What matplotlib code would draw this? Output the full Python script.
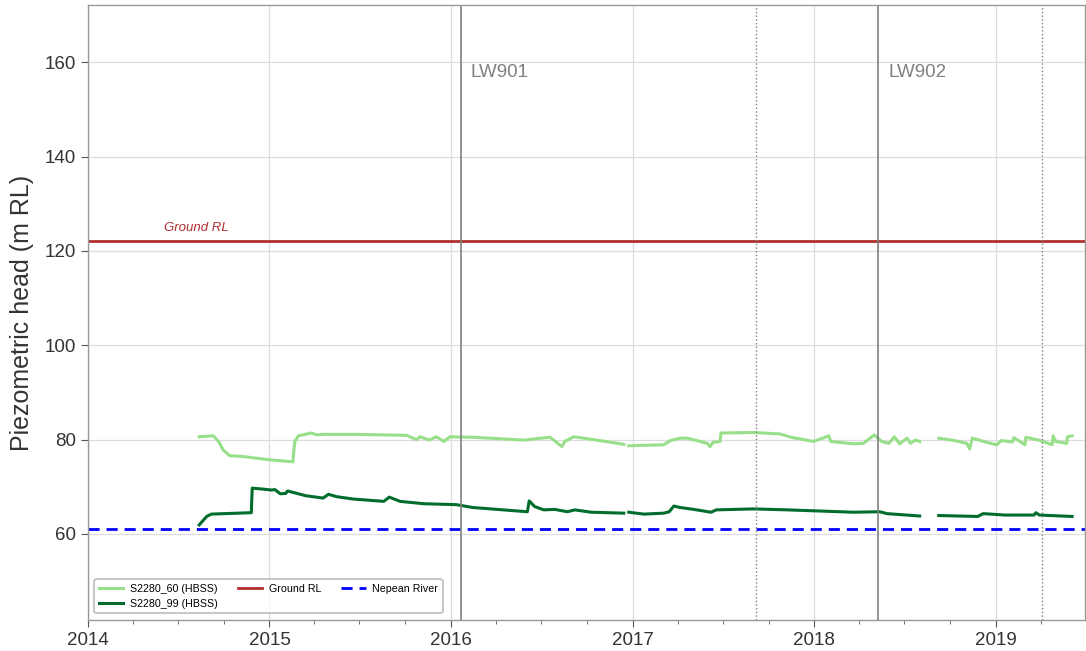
#!/usr/bin/env python

import numpy as np
import pandas as pd
import matplotlib
matplotlib.use("Agg")
import matplotlib.pyplot as plt
import matplotlib.dates as mdates

plt.rcParams['font.family'] = ['Arial', 'Liberation Sans', 'DejaVu Sans']

# piezometer readings, time in decimal years (NaN marks a gap in the record)
s60_t = [2014.613, 2014.69, 2014.72, 2014.745, 2014.78, 2014.856, 2015.003, 2015.13, 2015.133,
         2015.14, 2015.16, 2015.23, 2015.26, 2015.296, 2015.48, 2015.755, 2015.81, 2015.83,
         2015.88, 2015.92, 2015.96, 2015.995, 2016.12, 2016.4, 2016.545, 2016.61, 2016.625,
         2016.675, 2016.73, 2016.95, np.nan,
         2016.977, 2017.17, 2017.207, 2017.26, 2017.30, 2017.41, 2017.425, 2017.44, 2017.48,
         2017.485, 2017.665, 2017.81, 2017.87, 2017.996, 2018.08, 2018.09, 2018.216, 2018.27,
         2018.33, 2018.37, 2018.41, 2018.44, 2018.47, 2018.51, 2018.53, 2018.555, 2018.58, np.nan,
         2018.685, 2018.77, 2018.84, 2018.855, 2018.87, 2018.95, 2019.005, 2019.03, 2019.09,
         2019.10, 2019.16, 2019.165, 2019.245, 2019.31, 2019.315, 2019.33, 2019.39, 2019.395,
         2019.42]
s60_v = [80.6, 80.8, 79.6, 77.8, 76.6, 76.4, 75.7, 75.3, 77.1,
         79.6, 80.8, 81.4, 81.0, 81.1, 81.1, 80.9, 80.0, 80.6,
         79.9, 80.6, 79.6, 80.6, 80.5, 79.9, 80.5, 78.5, 79.6,
         80.6, 80.3, 79.0, np.nan,
         78.7, 78.9, 79.8, 80.3, 80.3, 79.2, 78.5, 79.4, 79.6,
         81.4, 81.5, 81.2, 80.5, 79.6, 80.8, 79.6, 79.1, 79.2,
         81.0, 79.6, 79.2, 80.6, 79.1, 80.3, 79.2, 79.9, 79.6, np.nan,
         80.3, 79.8, 79.2, 78.0, 80.3, 79.4, 78.9, 79.8, 79.5,
         80.4, 78.9, 80.5, 79.8, 78.9, 80.8, 79.6, 79.2, 80.6,
         80.8]

s99_t = [2014.613, 2014.654, 2014.68, 2014.90, 2014.905, 2014.966, 2015.01, 2015.03, 2015.06,
         2015.09, 2015.10, 2015.15, 2015.20, 2015.296, 2015.325, 2015.37, 2015.46, 2015.63,
         2015.66, 2015.72, 2015.85, 2016.03, 2016.12, 2016.42, 2016.43, 2016.46, 2016.51,
         2016.57, 2016.64, 2016.68, 2016.77, 2016.95, np.nan,
         2016.977, 2017.06, 2017.17, 2017.20, 2017.225, 2017.26, 2017.335, 2017.43, 2017.46,
         2017.665, 2017.85, 2018.216, 2018.36, 2018.40, 2018.58, np.nan,
         2018.685, 2018.90, 2018.93, 2019.05, 2019.21, 2019.22, 2019.24, 2019.42]
s99_v = [61.9, 63.7, 64.2, 64.5, 69.7, 69.5, 69.3, 69.4, 68.5,
         68.6, 69.1, 68.6, 68.1, 67.6, 68.4, 67.9, 67.4, 66.9,
         67.8, 66.9, 66.4, 66.2, 65.6, 64.7, 67.0, 65.8, 65.1,
         65.2, 64.7, 65.1, 64.6, 64.4, np.nan,
         64.6, 64.2, 64.4, 64.7, 65.9, 65.6, 65.2, 64.6, 65.1,
         65.3, 65.1, 64.6, 64.7, 64.3, 63.8, np.nan,
         63.9, 63.7, 64.3, 64.0, 64.0, 64.5, 64.0, 63.7]

ground_rl = 122.2
nepean_river = 61.1

longwall_names = ["LW901", "LW902"]
longwall_start = ["2016-01-21", "2018-05-09"]
longwall_end = ["2017-09-06", "2019-04-03"]


def decyear_to_date(t):
    out = []
    for v in t:
        if np.isnan(v):
            out.append(pd.NaT)
            continue
        yr = int(v)
        start = pd.Timestamp(year=yr, month=1, day=1)
        days = (pd.Timestamp(year=yr + 1, month=1, day=1) - start).days
        out.append(start + pd.Timedelta(days=(v - yr) * days))
    return pd.to_datetime(out)


s60_dates = decyear_to_date(s60_t)
s99_dates = decyear_to_date(s99_t)

fig = plt.figure(figsize=(10.86, 6.51), dpi=100)
ax = fig.add_axes([0.081, 0.048, 0.918, 0.944])

ax.plot(s60_dates, s60_v, color="#98df8a", lw=2.2, label="S2280_60 (HBSS)")
ax.plot(s99_dates, s99_v, color="#006d2c", lw=2.2, label="S2280_99 (HBSS)")
ax.axhline(ground_rl, color="#b03030", lw=2, label="Ground RL")
ax.axhline(nepean_river, color="blue", lw=2, ls=(0, (4, 2.5)), label="Nepean River")

ax.text(pd.Timestamp("2014-08-08"), ground_rl + 1.3, "Ground RL", color="#b03030",
        fontsize=9.5, style="italic", ha="center", va="bottom")

for name, st, en in zip(longwall_names, longwall_start, longwall_end):
    ax.axvline(pd.Timestamp(st), color="#808080", lw=1.2)
    ax.axvline(pd.Timestamp(en), color="#808080", lw=1, ls=":")
    ax.text(pd.Timestamp(st) + pd.Timedelta(days=20), 157.8, name, color="#808080",
            fontsize=13.5, va="center", ha="left")

ax.set_xlim(pd.Timestamp("2014-01-01"), pd.Timestamp("2019-06-29"))
ax.set_ylim(41.8, 172.1)
ax.set_yticks([60, 80, 100, 120, 140, 160])
ax.xaxis.set_major_locator(mdates.YearLocator())
ax.xaxis.set_major_formatter(mdates.DateFormatter("%Y"))
ax.xaxis.set_minor_locator(mdates.MonthLocator(bymonth=[4, 7, 10]))

ax.grid(True, which="major", color="#dddddd", lw=0.9)
ax.set_axisbelow(True)
for sp in ax.spines.values():
    sp.set_color("#999999")
    sp.set_linewidth(1)
ax.tick_params(axis="both", which="major", labelsize=13.5, color="#555555", length=5,
               labelcolor="#333333")
ax.tick_params(axis="x", which="minor", color="#555555", length=3)
ax.set_ylabel("Piezometric head (m RL)", fontsize=18, color="#333333", labelpad=8)

leg = ax.legend(loc="lower left", ncol=3, fontsize=7.7, frameon=True, fancybox=True,
                edgecolor="#bbbbbb", handlelength=2.25, handletextpad=0.65,
                columnspacing=1.9, borderaxespad=0.6)
leg.get_frame().set_linewidth(1.5)

fig.savefig("out.png", dpi=100)
